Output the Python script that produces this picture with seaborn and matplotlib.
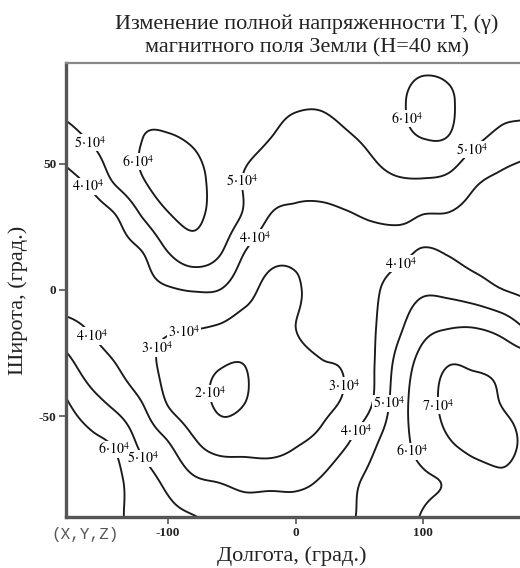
import numpy as np
import matplotlib
matplotlib.use("Agg")
import matplotlib.pyplot as plt
import seaborn as sns

# ---- data (field T in units of 1e4 gamma) ----
lon_deg = [-180, -160, -140, -120, -100, -80, -60, -40, -20, 0, 20, 40, 60, 80, 100, 120, 140, 160, 180]
lat_deg = [90, 75, 60, 45, 30, 15, 0, -15, -30, -45, -60, -75, -90]

t_p90 = [5.5, 5.5, 5.6, 5.6, 5.6, 5.6, 5.5, 5.5, 5.4, 5.4, 5.4, 5.5, 5.6, 5.7, 5.8, 5.8, 5.7, 5.6, 5.5]
t_p75 = [5.3, 5.5, 5.7, 5.8, 5.8, 5.7, 5.6, 5.4, 5.2, 5.1, 5.1, 5.3, 5.6, 5.85, 6.3, 6.1, 5.6, 5.3, 5.3]
t_p60 = [4.65, 5.1, 5.6, 6.0, 6.05, 5.9, 5.5, 5.3, 5.0, 4.75, 4.7, 4.9, 5.2, 5.7, 6.0, 5.95, 5.2, 4.8, 4.6]
t_p45 = [3.8, 4.3, 5.3, 6.0, 6.5, 6.3, 5.6, 4.95, 4.5, 4.3, 4.3, 4.45, 4.75, 5.0, 5.05, 4.9, 4.2, 3.9, 3.6]
t_p30 = [3.4, 3.6, 4.05, 5.1, 5.95, 6.2, 5.6, 4.9, 4.0, 3.85, 3.85, 3.95, 4.1, 4.15, 4.0, 3.97, 3.75, 3.6, 3.5]
t_p15 = [3.3, 3.5, 3.7, 4.0, 5.0, 5.55, 5.1, 4.0, 3.3, 3.2, 3.4, 3.5, 3.7, 3.85, 4.05, 3.95, 3.7, 3.6, 3.4]
t_000 = [3.3, 3.4, 3.5, 3.7, 3.9, 4.05, 4.0, 3.35, 2.75, 2.9, 3.4, 3.6, 3.85, 4.4, 4.85, 4.75, 4.45, 4.05, 3.8]
t_m15 = [4.35, 3.9, 3.6, 3.25, 3.1, 3.05, 2.9, 2.6, 2.7, 3.0, 3.3, 3.6, 3.9, 4.8, 5.7, 5.97, 6.0, 5.7, 4.95]
t_m30 = [5.35, 4.5, 4.0, 3.3, 2.8, 2.4, 2.05, 2.0, 2.6, 2.8, 2.95, 3.1, 3.9, 5.3, 6.4, 7.0, 6.9, 6.8, 6.6]
t_m45 = [6.1, 5.35, 4.75, 4.0, 2.95, 2.4, 1.9, 2.0, 2.5, 2.8, 2.85, 3.15, 4.0, 5.5, 6.6, 7.2, 7.4, 7.0, 6.8]
t_m60 = [6.6, 6.2, 5.8, 4.7, 4.0, 3.1, 2.5, 2.55, 2.55, 2.9, 3.2, 3.9, 4.8, 5.6, 6.4, 6.95, 7.3, 7.2, 6.9]
t_m75 = [6.8, 6.5, 6.15, 5.4, 4.75, 4.1, 3.9, 3.7, 3.7, 3.75, 4.05, 4.7, 5.2, 5.6, 5.9, 6.1, 6.6, 6.9, 6.8]
t_m90 = [6.7, 6.4, 6.1, 5.7, 5.3, 5.05, 4.7, 4.5, 4.6, 4.5, 4.5, 4.85, 5.3, 5.7, 6.05, 6.3, 6.5, 6.7, 6.7]

levels_e4 = [2, 3, 4, 5, 6, 7]
x_ticks = [-100, 0, 100]
y_ticks = [-50, 0, 50]

# label anchor points (lon, lat) for contour labels
label_pos = [(-160, 59), (-161, 42), (-119, 51), (-39, 43), (-33, 21), (88, 68), (137, 56),
             (80, 12), (-161, -19), (-115, -22), (-88, -15), (-69, -41), (39, -38), (73, -45),
             (109, -46), (48, -56), (91, -64), (-149, -65), (-114, -65)]

title_text = "Изменение полной напряженности T, (γ)\nмагнитного поля Земли (H=40 км)"
x_label = "Долгота, (град.)"
y_label = "Широта, (град.)"
corner_text = "(X,Y,Z)"


# ---- smooth (Catmull-Rom) resampling of the read grid ----
def cr_resample(grid, src, dst, axis):
    src = np.asarray(src, float)
    g = np.moveaxis(np.asarray(grid, float), axis, 0)
    pad = np.concatenate([2 * g[:1] - g[1:2], g, 2 * g[-1:] - g[-2:-1]], axis=0)
    h = src[1] - src[0]
    t = (np.asarray(dst, float) - src[0]) / h
    i = np.clip(np.floor(t).astype(int), 0, len(src) - 2)
    f = (t - i)[:, None]
    p0, p1, p2, p3 = pad[i], pad[i + 1], pad[i + 2], pad[i + 3]
    out = 0.5 * ((2 * p1) + (-p0 + p2) * f + (2 * p0 - 5 * p1 + 4 * p2 - p3) * f ** 2
                 + (-p0 + 3 * p1 - 3 * p2 + p3) * f ** 3)
    return np.moveaxis(out, 0, axis)


rows = [t_p90, t_p75, t_p60, t_p45, t_p30, t_p15, t_000, t_m15, t_m30, t_m45, t_m60, t_m75, t_m90]
Z = np.array(rows[::-1])            # lat ascending
lat_up = np.array(lat_deg[::-1], float)
lon_f = np.linspace(-180, 180, 361)
lat_f = np.linspace(-90, 90, 181)
Zf = cr_resample(Z, lon_deg, lon_f, axis=1)
Zf = cr_resample(Zf, lat_up, lat_f, axis=0) * 1e4
LON, LAT = np.meshgrid(lon_f, lat_f)

# ---- figure ----
sns.set_theme(style="ticks")
plt.rcParams["font.family"] = ["Liberation Serif", "DejaVu Serif"]
plt.rcParams["mathtext.fontset"] = "stix"

fig = plt.figure(figsize=(5.2, 5.68), dpi=100)
fig.patch.set_facecolor("white")
ax = fig.add_axes([66 / 520, 1 - 517 / 568, (525.5 - 66) / 520, (517 - 63) / 568])
ax.set_facecolor("white")

cs = ax.contour(LON, LAT, Zf, levels=[v * 1e4 for v in levels_e4],
                colors="#1a1a1a", linewidths=1.35)


def fmt(v):
    return rf"${v / 1e4:.0f}\!\cdot\!10^{{4}}$"


labels = ax.clabel(cs, manual=label_pos, fmt=fmt, inline=False, fontsize=10, colors="black")
for t in labels:
    t.set_rotation(0)
    t.set_bbox(dict(facecolor="white", edgecolor="none", pad=0.5))

ax.set_xlim(-180, 180)
ax.set_ylim(-90, 90)
ax.set_xticks(x_ticks)
ax.set_yticks(y_ticks)
ax.set_xticklabels([str(v) for v in x_ticks], fontweight="bold", fontsize=9.5)
ax.set_yticklabels([str(v) for v in y_ticks], fontweight="bold", fontsize=9.5)
ax.tick_params(direction="out", length=5, width=1.2, color="#555555", pad=2, labelcolor="#222222")
for side in ["left", "bottom"]:
    ax.spines[side].set_linewidth(2.4)
    ax.spines[side].set_color("#555555")
ax.spines["top"].set_linewidth(1.6)
ax.spines["top"].set_color("#888888")
ax.spines["right"].set_visible(False)

fig.text(307 / 520, 1 - 36 / 568, title_text, ha="center", va="center", fontsize=16,
         linespacing=1.3, color="#222222")
fig.text(292 / 520, 1 - 556 / 568, x_label, ha="center", va="center", fontsize=16, color="#222222")
fig.text(18 / 520, 1 - 300 / 568, y_label, ha="center", va="center", rotation=90, fontsize=16,
         color="#222222")
fig.text(85 / 520, 1 - 534 / 568, corner_text, ha="center", va="center", fontsize=11.5,
         family=["Liberation Mono", "DejaVu Sans Mono"], color="#555555")

fig.savefig("out.png", dpi=100)
